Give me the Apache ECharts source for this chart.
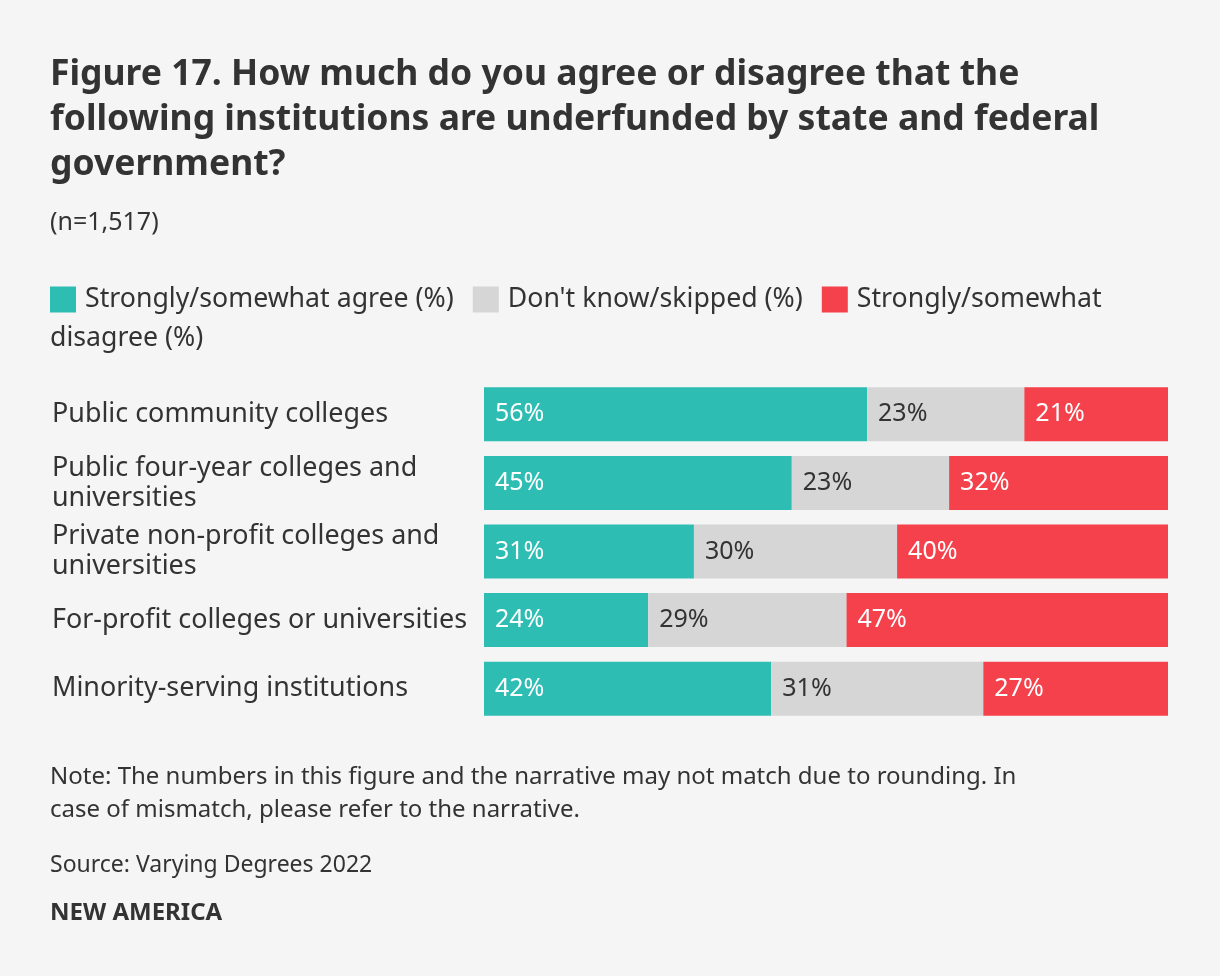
<!DOCTYPE html>
<html>
<head>
<meta charset="utf-8">
<script src="https://cdn.jsdelivr.net/npm/echarts@6/dist/echarts.min.js"></script>
<style>
html,body{margin:0;padding:0;background:#f5f5f5;}
#chart{width:1220px;height:976px;}
</style>
</head>
<body>
<div id="chart"></div>
<script>
const categories = [
  "Public community colleges",
  "Public four-year colleges and universities",
  "Private non-profit colleges and universities",
  "For-profit colleges or universities",
  "Minority-serving institutions"
];
const seriesNames = ["Strongly/somewhat agree (%)", "Don't know/skipped (%)", "Strongly/somewhat disagree (%)"];
const agree = [56, 45, 31, 24, 42];
const dontKnow = [23, 23, 30, 29, 31];
const disagree = [21, 32, 40, 47, 27];
const colors = ["#2ebdb3", "#d6d6d6", "#f4414b"];
const labelColors = ["#ffffff", "#333333", "#ffffff"];

const FONT = "Noto Sans";
const rows = [agree, dontKnow, disagree];
const totals = categories.map((c, i) => agree[i] + dontKnow[i] + disagree[i]);

const chart = echarts.init(document.getElementById('chart'));
const series = rows.map((arr, s) => ({
  name: seriesNames[s],
  type: 'bar',
  stack: 'total',
  barWidth: 54,
  itemStyle: { color: colors[s] },
  label: {
    show: true,
    position: 'insideLeft',
    distance: 11,
    color: labelColors[s],
    fontFamily: FONT,
    fontSize: 25,
    formatter: p => arr[p.dataIndex] + '%'
  },
  emphasis: { disabled: true },
  data: arr.map((v, i) => v / totals[i] * 100)
}));

chart.setOption({
  backgroundColor: '#f5f5f5',
  animation: false,
  title: [
    {
      text: "Figure 17. How much do you agree or disagree that the\nfollowing institutions are underfunded by state and federal\ngovernment?",
      left: 50, top: 52, padding: 0,
      textStyle: { fontFamily: FONT, fontSize: 35.5, fontWeight: 'bold', color: '#333', lineHeight: 45 }
    },
    {
      text: "(n=1,517)",
      left: 50, top: 210, padding: 0,
      textStyle: { fontFamily: FONT, fontSize: 25, fontWeight: 'normal', color: '#333' }
    },
    {
      text: "Note: The numbers in this figure and the narrative may not match due to rounding. In\ncase of mismatch, please refer to the narrative.",
      left: 50, top: 761, padding: 0,
      textStyle: { fontFamily: FONT, fontSize: 24, fontWeight: 'normal', color: '#333', lineHeight: 33 }
    },
    {
      text: "Source: Varying Degrees 2022",
      left: 50, top: 854, padding: 0,
      textStyle: { fontFamily: FONT, fontSize: 23, fontWeight: 'normal', color: '#333' }
    },
    {
      text: "NEW AMERICA",
      left: 50, top: 901, padding: 0,
      textStyle: { fontFamily: FONT, fontSize: 24, fontWeight: 'bold', color: '#333' }
    }
  ],
  legend: {
    left: 50, top: 286, padding: 0,
    itemWidth: 26, itemHeight: 26, itemGap: 19,
    icon: 'rect',
    selectedMode: false,
    textStyle: { fontFamily: FONT, fontSize: 26.7, color: '#333', padding: [0, 0, 0, 4] },
    formatter: n => n === seriesNames[2] ? 'Strongly/somewhat' : n,
    data: seriesNames
  },
  graphic: [{
    type: 'text', left: 50, top: 325,
    style: { text: 'disagree (%)', font: '26.7px ' + FONT, fill: '#333' }
  }],
  grid: { left: 484, right: 52, top: 380, bottom: 253, containLabel: false },
  xAxis: { type: 'value', min: 0, max: 100, show: false },
  yAxis: {
    type: 'category',
    inverse: true,
    data: categories,
    axisLine: { show: false },
    axisTick: { show: false },
    axisLabel: {
      align: 'left',
      margin: 432,
      fontFamily: FONT,
      fontSize: 26.9,
      color: '#333',
      lineHeight: 30,
      width: 425,
      overflow: 'break'
    }
  },
  series: series
});
</script>
</body>
</html>
